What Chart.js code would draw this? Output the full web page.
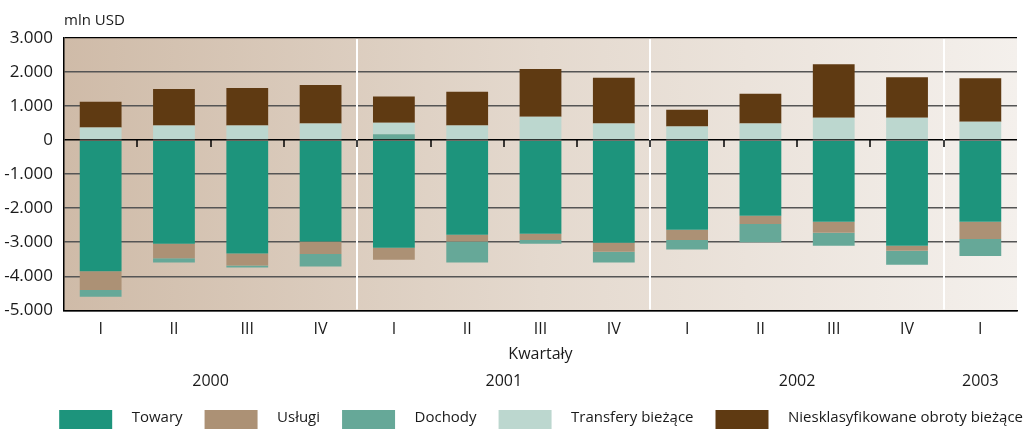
<!DOCTYPE html>
<html>
<head>
<meta charset="utf-8">
<script src="https://cdn.jsdelivr.net/npm/chart.js@4"></script>
<style>
  html, body { margin: 0; padding: 0; background: #fff; }
  #wrap { width: 1025px; height: 431px; }
</style>
</head>
<body>
<div id="wrap"><canvas id="bop"></canvas></div>
<script>
// quarters and years
const quarters = ['I', 'II', 'III', 'IV', 'I', 'II', 'III', 'IV', 'I', 'II', 'III', 'IV', 'I'];
const years = ['2000', '2001', '2002', '2003'];
const quartersPerYear = [4, 4, 4, 1];

// mln USD
const towary = [-3850, -3040, -3330, -2980, -3160, -2780, -2750, -3010, -2630, -2220, -2400, -3100, -2400];
const uslugi = [-550, -430, -350, -360, -350, -200, -180, -270, -300, -240, -320, -150, -500];
const dochody = [-200, -120, -60, -370, 170, -610, -110, -310, -280, -540, -380, -410, -500];
const transfery = [370, 430, 430, 490, 340, 430, 690, 490, 400, 490, 660, 660, 540];
const niesklasyfikowane = [760, 1070, 1100, 1130, 770, 990, 1400, 1340, 490, 870, 1570, 1190, 1280];

const yTicks = [3000, 2000, 1000, 0, -1000, -2000, -3000, -4000, -5000];

const FONT = "'Open Sans', 'DejaVu Sans', sans-serif";
const TXT = '#1a1a1a';

// year label slots: half-quarter grid, one slot per quarter edge and centre
const yearSlots = Array(2 * quarters.length + 1).fill('');
const yearEdges = [];
let start = 0;
quartersPerYear.forEach((n, i) => {
  yearSlots[2 * start + n] = years[i];
  start += n;
  if (i < quartersPerYear.length - 1) yearEdges.push(start);
});

function fmt(v) {
  const s = String(Math.abs(v)).replace(/\B(?=(\d{3})+(?!\d))/g, '.');
  return v < 0 ? '-' + s : s;
}

// legend swatch: blank gap on the left, box, then gap before text
function swatch(color) {
  const c = document.createElement('canvas');
  c.width = 87; c.height = 22;
  const g = c.getContext('2d');
  g.fillStyle = color;
  g.fillRect(22, 0, 53, 22);
  return c;
}

const bgPlugin = {
  id: 'bg',
  beforeDraw(chart) {
    const { ctx, chartArea: a } = chart;
    const grad = ctx.createLinearGradient(a.left, 0, a.right, 0);
    grad.addColorStop(0, '#cfbba8');
    grad.addColorStop(0.5, '#e4d9ce');
    grad.addColorStop(1, '#f4f0ec');
    ctx.save();
    ctx.fillStyle = grad;
    ctx.fillRect(a.left, a.top, a.right - a.left, a.bottom - a.top);
    ctx.restore();
  },
  beforeDatasetsDraw(chart) {
    const { ctx, chartArea: a, scales } = chart;
    const w = scales.x.width / quarters.length;
    ctx.save();
    ctx.strokeStyle = '#ffffff';
    ctx.lineWidth = 2;
    yearEdges.forEach(e => {
      const x = Math.round(scales.x.left + e * w);
      ctx.beginPath();
      ctx.moveTo(x, a.top + 1);
      ctx.lineTo(x, a.bottom - 1);
      ctx.stroke();
    });
    // small ticks on the zero line between quarters
    const y0 = Math.round(scales.y.getPixelForValue(0));
    ctx.strokeStyle = '#000';
    ctx.lineWidth = 1.5;
    for (let i = 1; i < quarters.length; i++) {
      const x = Math.round(scales.x.left + i * w);
      ctx.beginPath();
      ctx.moveTo(x, y0);
      ctx.lineTo(x, y0 + 7);
      ctx.stroke();
    }
    ctx.restore();
  }
};

new Chart(document.getElementById('bop'), {
  type: 'bar',
  data: {
    labels: quarters,
    datasets: [
      { label: 'Towary', data: towary, backgroundColor: '#1d947c' },
      { label: 'Usługi', data: uslugi, backgroundColor: '#ac9175' },
      { label: 'Dochody', data: dochody, backgroundColor: '#66a898' },
      { label: 'Transfery bieżące', data: transfery, backgroundColor: '#bcd7cf' },
      { label: 'Niesklasyfikowane obroty bieżące', data: niesklasyfikowane, backgroundColor: '#5f3a12' }
    ]
  },
  options: {
    responsive: true,
    maintainAspectRatio: false,
    animation: false,
    layout: { padding: { left: 0, right: 2, top: 0, bottom: -4 } },
    datasets: {
      bar: { categoryPercentage: 1, barPercentage: 0.57, borderWidth: 0 }
    },
    scales: {
      x: {
        stacked: true,
        weight: 0,
        grid: { display: false, drawTicks: false },
        border: { display: true, color: '#000', width: 1.5 },
        ticks: { color: TXT, font: { family: FONT, size: 16 }, padding: 9, maxRotation: 0 },
        title: { display: true, text: 'Kwartały', color: TXT, font: { family: FONT, size: 16 }, padding: { top: -3, bottom: 0 } }
      },
      years: {
        type: 'category',
        labels: yearSlots,
        offset: false,
        position: 'bottom',
        weight: 1,
        grid: { display: false, drawTicks: false },
        border: { display: false },
        ticks: { color: TXT, font: { family: FONT, size: 16 }, padding: 8, autoSkip: false, maxRotation: 0, minRotation: 0 },
        title: { display: true, text: ' ', font: { size: 10 }, padding: { top: 0, bottom: -1 } }
      },
      y: {
        stacked: true,
        min: -5000,
        max: 3000,
        afterFit(scale) { scale.width = 64; },
        afterBuildTicks(scale) { scale.ticks = yTicks.map(v => ({ value: v })); },
        grid: {
          drawTicks: false,
          color: ctx => (ctx.tick && (ctx.tick.value === 0 || ctx.tick.value === 3000)) ? '#000' : '#555',
          lineWidth: ctx => (ctx.tick && ctx.tick.value === 3000) ? 1.2 : 1.6
        },
        border: { display: true, color: '#000', width: 1.5 },
        ticks: { color: TXT, font: { family: FONT, size: 17 }, padding: 11, callback: v => fmt(v) }
      }
    },
    plugins: {
      title: {
        display: true,
        fullSize: false,
        align: 'start',
        text: 'mln USD',
        color: TXT,
        font: { family: FONT, size: 15, weight: 'normal' },
        padding: { top: 12, bottom: 8 }
      },
      legend: {
        position: 'bottom',
        align: 'end',
        labels: {
          usePointStyle: true,
          pointStyleWidth: 87,
          color: TXT,
          font: { family: FONT, size: 15 },
          padding: 0,
          generateLabels(chart) {
            const items = Chart.defaults.plugins.legend.labels.generateLabels(chart);
            return items.map((it, i) => Object.assign(it, { pointStyle: swatch(chart.data.datasets[i].backgroundColor) }));
          }
        }
      },
      tooltip: { enabled: false }
    }
  },
  plugins: [bgPlugin]
});
</script>
</body>
</html>
